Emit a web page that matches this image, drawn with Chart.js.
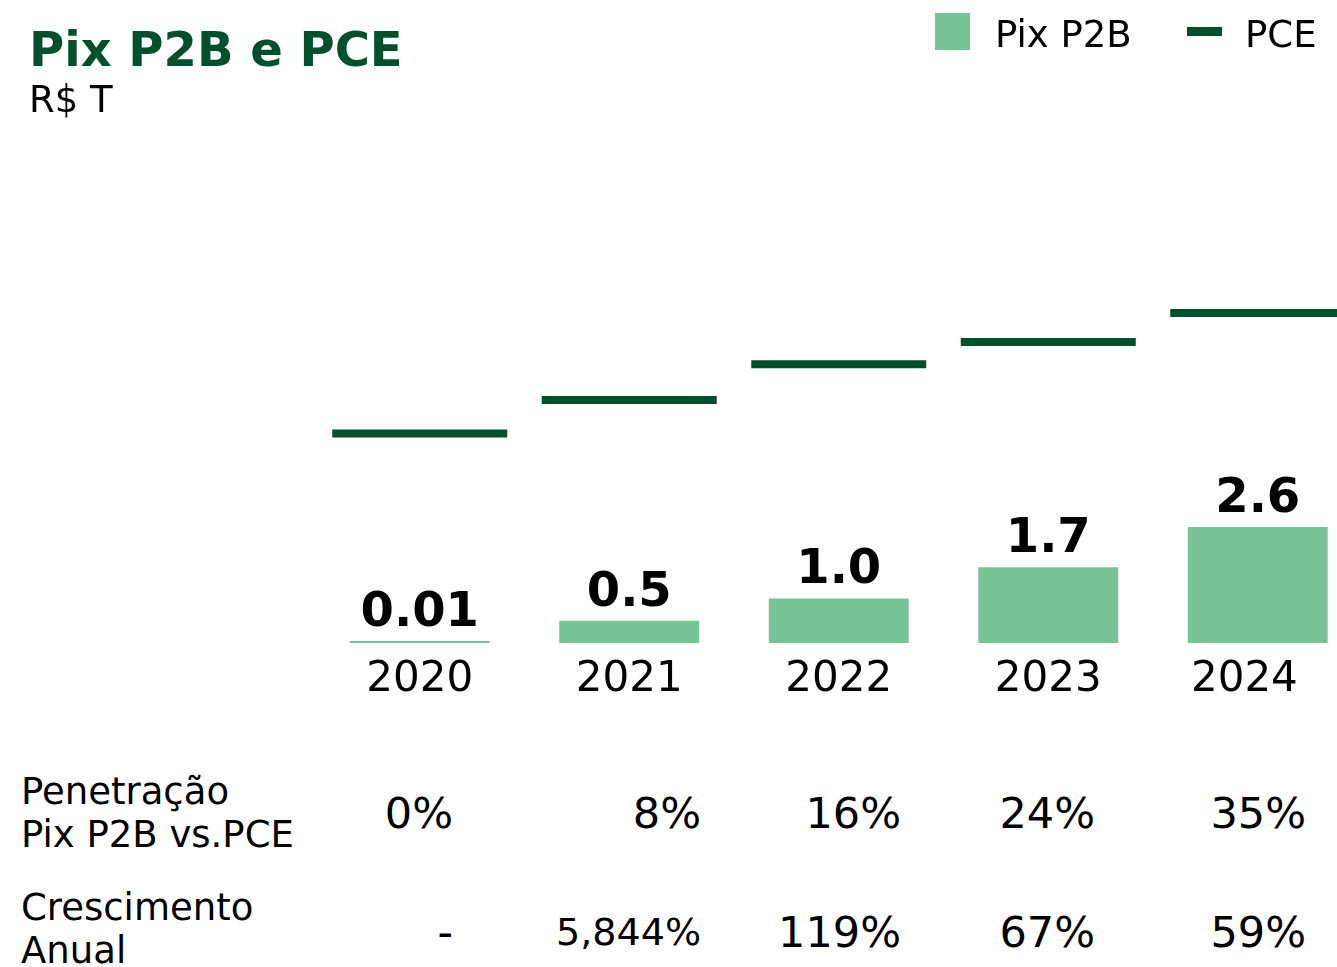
<!DOCTYPE html>
<html>
<head>
<meta charset="utf-8">
<script src="https://cdn.jsdelivr.net/npm/chart.js@4.4.1/dist/chart.umd.min.js"></script>
<style>
  html, body { margin: 0; padding: 0; background: #fff; overflow: hidden; }
  #page { position: relative; width: 1337px; height: 967px; overflow: hidden; font-family: 'DejaVu Sans', sans-serif; color: #000; }
  #chartBox { position: absolute; left: 0; top: 0; width: 1365px; height: 720px; }
  .t { position: absolute; white-space: nowrap; }
  #title { left: 29px; top: 25px; font-size: 48px; line-height: 48px; font-weight: bold; color: #00502e; }
  #subtitle { left: 29px; top: 81px; font-size: 37px; line-height: 37px; }
  .swatch { position: absolute; }
  .rowLabel { left: 21px; font-size: 37px; line-height: 43px; }
</style>
</head>
<body>
<div id="page">
  <div id="chartBox"><canvas id="pixChart"></canvas></div>
  <div class="t" id="title">Pix P2B e PCE</div>
  <div class="t" id="subtitle">R$ T</div>

  <div class="swatch" style="left:935px;top:13px;width:35px;height:37px;background:#77c594;"></div>
  <div class="t" style="left:995px;top:16px;font-size:37px;line-height:37px;">Pix P2B</div>
  <div class="swatch" style="left:1187px;top:27px;width:35px;height:9px;background:#00502e;"></div>
  <div class="t" style="left:1245px;top:16px;font-size:37px;line-height:37px;">PCE</div>

  <div class="t rowLabel" style="top:770px;">Penetração<br>Pix P2B vs.PCE</div>
  <div class="t rowLabel" style="top:886px;">Crescimento<br>Anual</div>
</div>
<script>
const years = ['2020', '2021', '2022', '2023', '2024'];
const pixP2B = [0.01, 0.5, 1.0, 1.7, 2.6];
const pce = [4.7, 5.45, 6.25, 6.75, 7.4];
const penetracao = ['0%', '8%', '16%', '24%', '35%'];
const crescimento = ['-', '5,844%', '119%', '67%', '59%'];

const BAR_GREEN = '#77c594';
const DARK_GREEN = '#00502e';

Chart.defaults.font.family = "'DejaVu Sans', sans-serif";
Chart.defaults.color = '#000';

// value labels above the bars
const barLabels = {
    id: 'barLabels',
    afterDatasetsDraw(chart) {
        const ctx = chart.ctx;
        const meta = chart.getDatasetMeta(0);
        ctx.save();
        ctx.font = "bold 48px 'DejaVu Sans', sans-serif";
        ctx.fillStyle = '#000';
        ctx.textAlign = 'center';
        ctx.textBaseline = 'alphabetic';
        meta.data.forEach(function(bar, i) {
            const v = pixP2B[i];
            const txt = v < 0.1 ? v.toFixed(2) : v.toFixed(1);
            ctx.fillText(txt, bar.x, bar.y - 15);
        });
        ctx.restore();
    }
};

const ctx = document.getElementById('pixChart').getContext('2d');
const pixChart = new Chart(ctx, {
    type: 'bar',
    data: {
        labels: years,
        datasets: [{
            label: 'Pix P2B',
            data: pixP2B,
            backgroundColor: BAR_GREEN,
            barPercentage: 0.668,
            categoryPercentage: 1,
            minBarLength: 2,
            order: 2
        }, {
            type: 'line',
            label: 'PCE',
            data: pce,
            showLine: false,
            pointStyle: 'line',
            pointRadius: 87.5,
            pointHoverRadius: 87.5,
            pointBorderWidth: 8,
            pointHoverBorderWidth: 8,
            pointBorderColor: DARK_GREEN,
            pointBackgroundColor: DARK_GREEN,
            order: 1
        }]
    },
    options: {
        responsive: true,
        maintainAspectRatio: false,
        animation: false,
        events: [],
        layout: {
            autoPadding: false,
            padding: { left: 315, right: 2.5, top: 197, bottom: 2 }
        },
        plugins: {
            legend: { display: false },
            tooltip: { enabled: false }
        },
        scales: {
            x: {
                grid: { display: false, drawTicks: false },
                border: { display: false },
                ticks: {
                    padding: 16.5,
                    maxRotation: 0,
                    autoSkip: false,
                    font: { size: 42, lineHeight: 1 },
                    color: '#000',
                    // last year label sits a bit left of its bar in the original
                    callback: function(val, i) {
                        return i === years.length - 1 ? years[i] + '  ' : years[i];
                    }
                },
                afterFit: function(scale) {
                    scale.paddingLeft = 0;
                    scale.paddingRight = 0;
                }
            },
            y: {
                display: false,
                min: 0,
                max: 10
            }
        }
    },
    plugins: [barLabels]
});

// table rows under the chart, right-aligned per column
const tableRight = [453, 701, 901, 1095, 1306];
const page = document.getElementById('page');
function addCell(text, right, top, size) {
    const d = document.createElement('div');
    d.className = 't';
    d.textContent = text;
    d.style.right = (1337 - right) + 'px';
    d.style.top = top + 'px';
    d.style.fontSize = size + 'px';
    d.style.lineHeight = size + 'px';
    page.appendChild(d);
}
penetracao.forEach(function(v, i) { addCell(v, tableRight[i], 792, 43); });
crescimento.forEach(function(v, i) {
    if (v.length > 5) addCell(v, tableRight[i], 913, 38);
    else addCell(v, tableRight[i], 911, 43);
});
</script>
</body>
</html>
